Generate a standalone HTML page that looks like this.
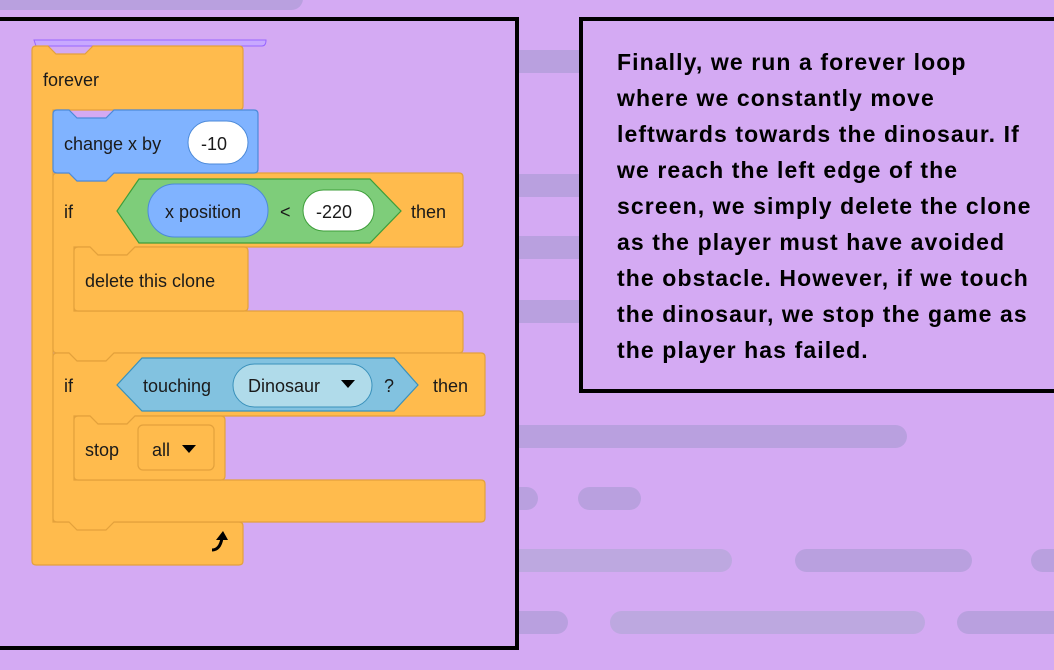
<!DOCTYPE html>
<html><head><style>
body{margin:0;width:1054px;height:670px;overflow:hidden;background:#d4aaf3;position:relative;font-family:"Liberation Sans",sans-serif}
.bar{position:absolute;background:#b9a0df;border-radius:12px;height:23px}
.box{position:absolute;border:4px solid #000;box-sizing:border-box}
.txt{position:absolute;left:617px;top:44px;font-weight:bold;font-size:23px;letter-spacing:1.1px;line-height:36px;color:#000;white-space:pre}
svg{position:absolute;left:0;top:0}
</style></head><body>
<div class="bar" style="left:-20px;top:-13px;width:323px"></div>
<div class="bar" style="left:500px;top:50px;width:90px"></div>
<div class="bar" style="left:500px;top:174px;width:90px"></div>
<div class="bar" style="left:500px;top:236px;width:90px"></div>
<div class="bar" style="left:500px;top:300px;width:90px"></div>
<div class="bar" style="left:500px;top:425px;width:407px"></div>
<div class="bar" style="left:500px;top:487px;width:38px"></div>
<div class="bar" style="left:578px;top:487px;width:63px"></div>
<div class="bar" style="left:500px;top:549px;width:232px;background:#bda8e0"></div>
<div class="bar" style="left:795px;top:549px;width:177px"></div>
<div class="bar" style="left:1031px;top:549px;width:60px"></div>
<div class="bar" style="left:500px;top:611px;width:68px"></div>
<div class="bar" style="left:610px;top:611px;width:315px;background:#bda8e0"></div>
<div class="bar" style="left:957px;top:611px;width:120px"></div>
<div class="box" style="left:-10px;top:17px;width:529px;height:633px;background:#d4aaf3"></div>
<div class="box" style="left:579px;top:17px;width:490px;height:376px;background:#d4aaf3"></div>
<div class="txt">Finally, we run a forever loop
where we constantly move
leftwards towards the dinosaur. If
we reach the left edge of the
screen, we simply delete the clone
as the player must have avoided
the obstacle. However, if we touch
the dinosaur, we stop the game as
the player has failed.</div>
<svg width="1054" height="670" font-family="Liberation Sans, sans-serif" font-size="18" fill="#222">
<path d="M34,40 L266,40 Q266,46 262,46 L36,46 Z" fill="#c8a8ff" stroke="#9966ff" stroke-width="1"/>
<g fill="#ffbb4d" stroke="#e3a13c" stroke-width="1.2">
<path d="M36,46 L48,46 L56,54 L85,54 L93,46 L239,46 Q243,46 243,50 L243,106 Q243,110 239,110 L53,110 L53,522 L239,522 Q243,522 243,526 L243,561 Q243,565 239,565 L36,565 Q32,565 32,561 L32,50 Q32,46 36,46Z"/>
<path d="M57,173 L69,173 L77,181 L106,181 L114,173 L459,173 Q463,173 463,177 L463,243 Q463,247 459,247 L135,247 L127,255 L98,255 L90,247 L74,247 L74,311 L459,311 Q463,311 463,315 L463,349 Q463,353 459,353 L114,353 L106,361 L77,361 L69,353 L57,353 Q53,353 53,349 L53,177 Q53,173 57,173Z"/>
<path d="M78,247 L90,247 L98,255 L127,255 L135,247 L244,247 Q248,247 248,251 L248,307 Q248,311 244,311 L78,311 Q74,311 74,307 L74,251 Q74,247 78,247Z"/>
<path d="M57,353 L69,353 L77,361 L106,361 L114,353 L481,353 Q485,353 485,357 L485,412 Q485,416 481,416 L135,416 L127,424 L98,424 L90,416 L74,416 L74,480 L481,480 Q485,480 485,484 L485,518 Q485,522 481,522 L114,522 L106,530 L77,530 L69,522 L57,522 Q53,522 53,518 L53,357 Q53,353 57,353Z"/>
<path d="M78,416 L90,416 L98,424 L127,424 L135,416 L221,416 Q225,416 225,420 L225,476 Q225,480 221,480 L78,480 Q74,480 74,476 L74,420 Q74,416 78,416Z"/>
<rect x="138" y="425" width="76" height="45" rx="5" fill="#ffbb4d"/>
</g>
<path d="M57,110 L69,110 L77,118 L106,118 L114,110 L254,110 Q258,110 258,114 L258,169 Q258,173 254,173 L114,173 L106,181 L77,181 L69,173 L57,173 Q53,173 53,169 L53,114 Q53,110 57,110Z" fill="#80b3ff" stroke="#4c8ad9" stroke-width="1.2"/>
<rect x="188" y="121" width="60" height="43" rx="21.5" fill="#fff" stroke="#4c8ad9"/>
<polygon points="117,211 139,179 370,179 401,211 370,243 139,243" fill="#7ecd7a" stroke="#3d9e3a" stroke-width="1.2"/>
<rect x="148" y="184" width="120" height="53" rx="26.5" fill="#80b3ff" stroke="#4c8ad9"/>
<rect x="303" y="190" width="71" height="41" rx="20.5" fill="#fff" stroke="#3d9e3a"/>
<polygon points="117,385 142,358 394,358 418,385 394,411 142,411" fill="#82c2e0" stroke="#3a91bb" stroke-width="1.2"/>
<rect x="233" y="364" width="139" height="43" rx="21.5" fill="#b0dbea" stroke="#3a91bb"/>
<g fill="#1a1a1a">
<text x="43" y="86">forever</text>
<text x="64" y="150">change x by</text>
<text x="201" y="150">-10</text>
<text x="64" y="218">if</text>
<text x="165" y="218">x position</text>
<text x="280" y="218">&lt;</text>
<text x="316" y="218">-220</text>
<text x="411" y="218">then</text>
<text x="85" y="287">delete this clone</text>
<text x="64" y="392">if</text>
<text x="143" y="392">touching</text>
<text x="248" y="392">Dinosaur</text>
<text x="384" y="392">?</text>
<text x="433" y="392">then</text>
<text x="85" y="456">stop</text>
<text x="152" y="456">all</text>
</g>
<polygon points="341,380 355,380 348,388" fill="#000"/>
<polygon points="182,445 196,445 189,453" fill="#000"/>
<path d="M212,550 Q220,550 222,538" fill="none" stroke="#000" stroke-width="3"/>
<polygon points="216,540 228,540 223,531" fill="#000"/>
</svg>
</body></html>
